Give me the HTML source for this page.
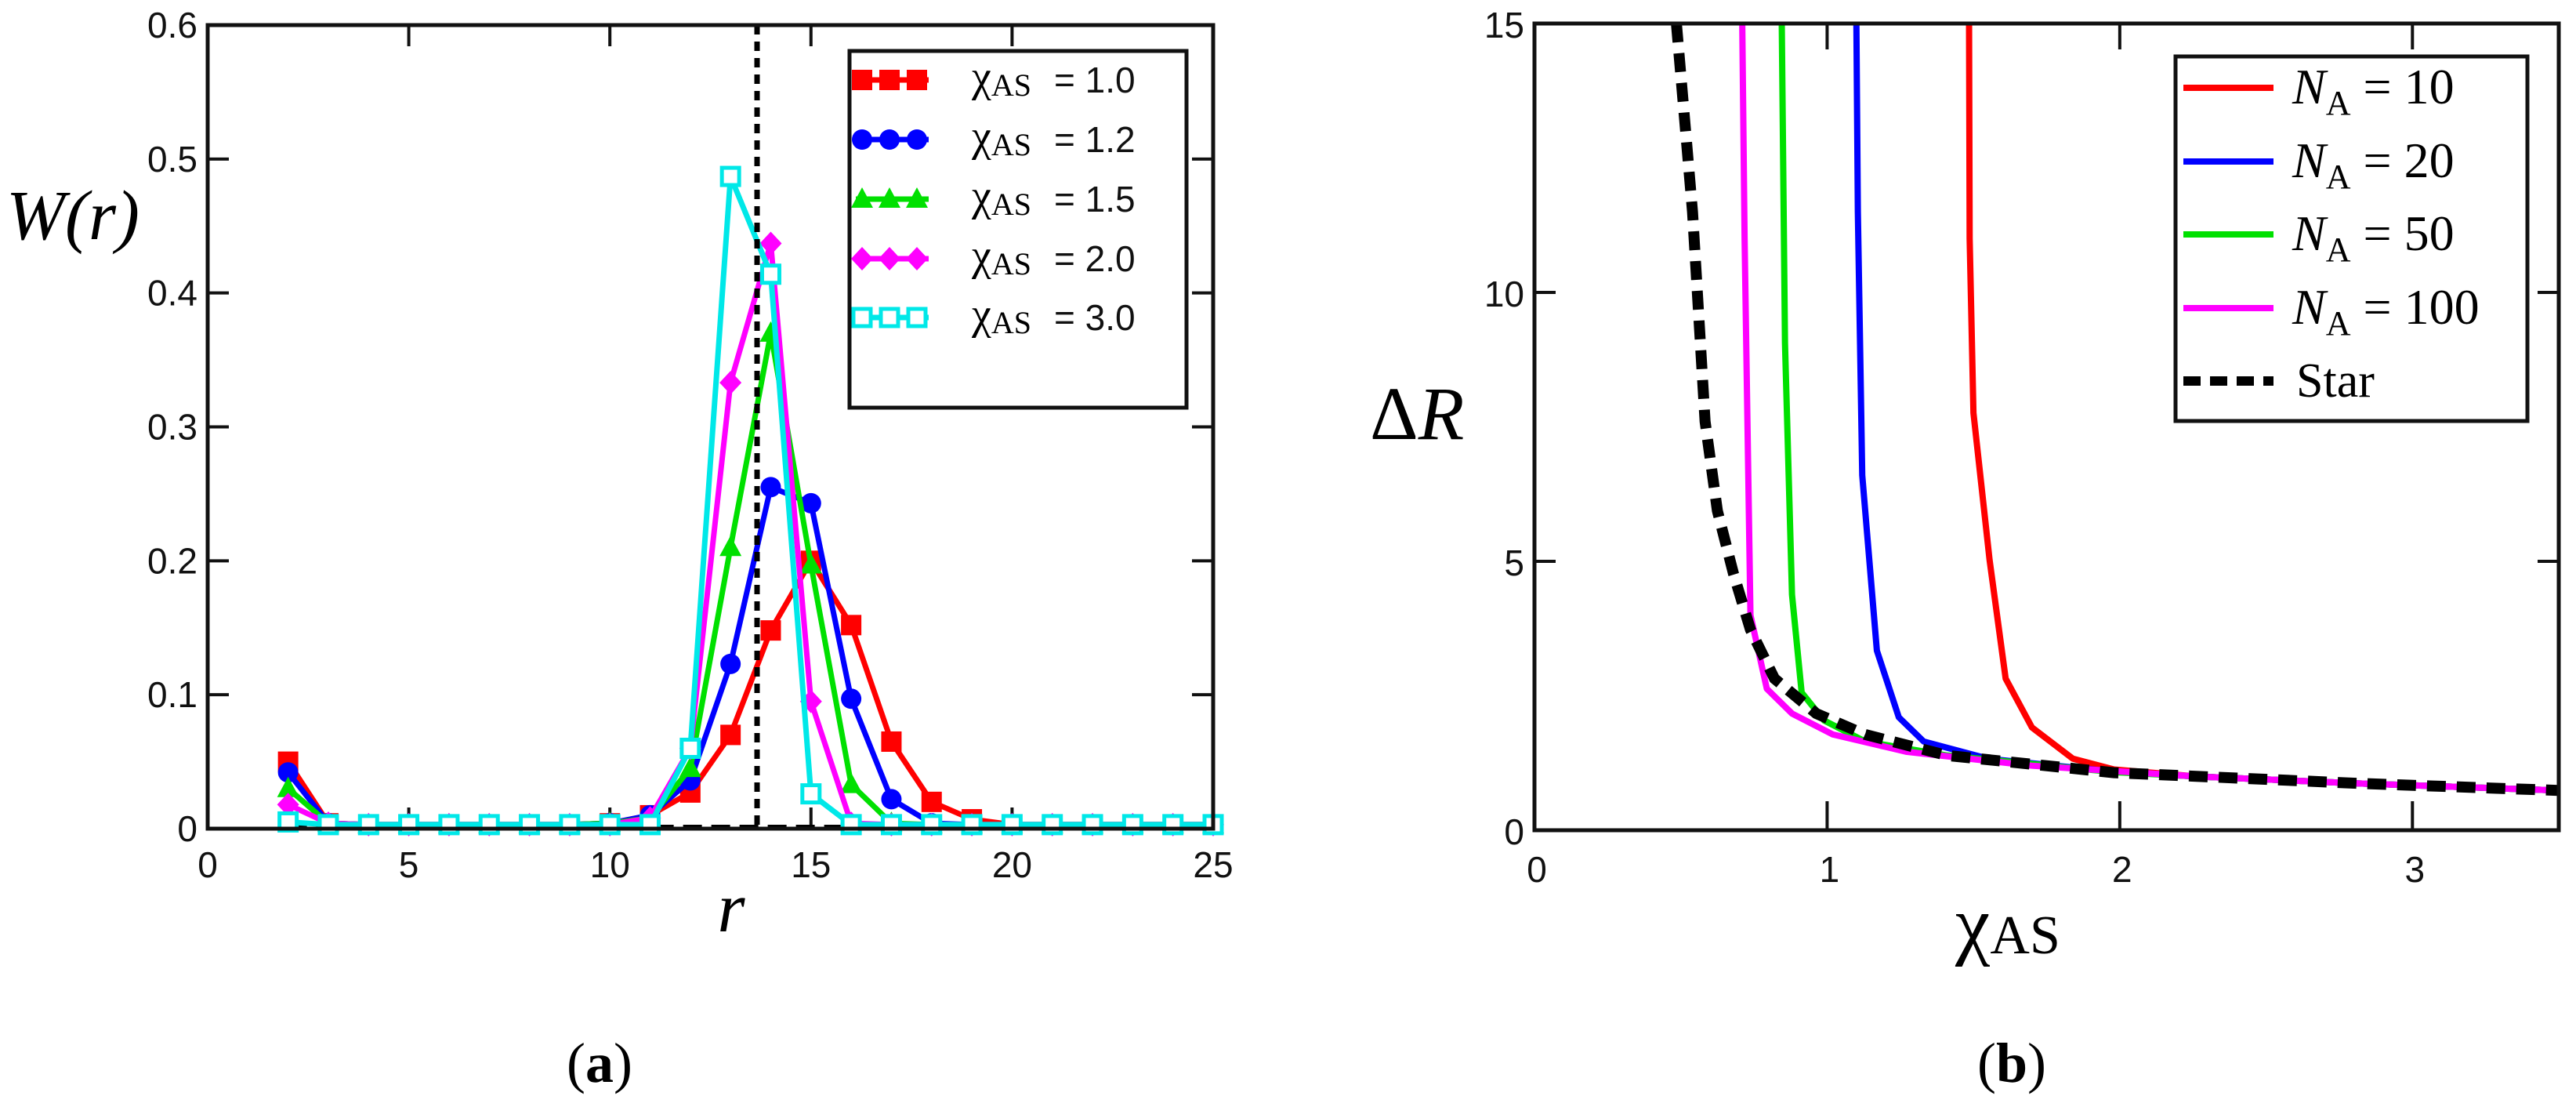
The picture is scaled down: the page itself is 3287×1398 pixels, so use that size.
<!DOCTYPE html>
<html><head><meta charset="utf-8"><style>
html,body{margin:0;padding:0;background:#fff;}
svg{display:block;}
.tk{font-family:"Liberation Sans",sans-serif;font-size:46px;fill:#111;}
.lg{font-family:"Liberation Serif",serif;fill:#000;}
</style></head><body>
<svg id="fig" width="3287" height="1398" viewBox="0 0 3287 1398" xmlns="http://www.w3.org/2000/svg">
<g id="pa"></g>
<g id="pb"></g>
</svg>
<script>
// ---- Panel (a) data ----
const rVals = [2,3,4,5,6,7,8,9,10,11,12,13,14,15,16,17,18,19,20,21,22,23,24,25];
const w10 = [0.05,0.004,0.003,0.003,0.003,0.003,0.003,0.003,0.004,0.01,0.027,0.07,0.148,0.2,0.152,0.065,0.02,0.007,0.003,0.003,0.003,0.003,0.003,0.003];
const w12 = [0.042,0.004,0.003,0.003,0.003,0.003,0.003,0.003,0.004,0.01,0.036,0.123,0.255,0.243,0.097,0.022,0.004,0.003,0.003,0.003,0.003,0.003,0.003,0.003];
const w15 = [0.03,0.004,0.003,0.003,0.003,0.003,0.003,0.003,0.004,0.008,0.045,0.21,0.37,0.197,0.033,0.004,0.003,0.003,0.003,0.003,0.003,0.003,0.003,0.003];
const w20 = [0.018,0.004,0.003,0.003,0.003,0.003,0.003,0.003,0.003,0.008,0.06,0.333,0.437,0.095,0.004,0.003,0.003,0.003,0.003,0.003,0.003,0.003,0.003,0.003];
const w30 = [0.005,0.003,0.003,0.003,0.003,0.003,0.003,0.003,0.003,0.003,0.06,0.487,0.414,0.026,0.003,0.003,0.003,0.003,0.003,0.003,0.003,0.003,0.003,0.003];
const aXTicks = [0,5,10,15,20,25];
const aYTicks = [0,0.1,0.2,0.3,0.4,0.5,0.6];
const aYTickLabels = ["0","0.1","0.2","0.3","0.4","0.5","0.6"];
const aLegend = ["1.0","1.2","1.5","2.0","3.0"];
const aRef = 13.66;
// ---- Panel (b) data ----
const bRedX = [1.485,1.487,1.50,1.555,1.61,1.70,1.84,1.98,2.26,2.82,3.5];
const bRedY = [15,11,7.76,5.03,2.82,1.91,1.33,1.13,1.0,0.87,0.74];
const bBlueX = [1.10,1.105,1.12,1.17,1.245,1.33,1.55,1.98,2.26,2.82,3.5];
const bBlueY = [15,11.5,6.6,3.34,2.1,1.65,1.33,1.09,1.0,0.87,0.74];
const bGreenX = [0.845,0.856,0.88,0.913,0.99,1.13,1.41,1.98,2.26,2.82,3.5];
const bGreenY = [15,9.06,4.38,2.56,2.04,1.65,1.39,1.08,1.0,0.87,0.74];
const bMagX = [0.71,0.718,0.738,0.794,0.88,1.02,1.27,1.70,2.26,2.82,3.5];
const bMagY = [15,11,4.0,2.63,2.17,1.78,1.46,1.2,1.0,0.87,0.74];
const bStarX = [0.485,0.54,0.583,0.625,0.68,0.738,0.82,0.963,1.13,1.41,1.98,2.82,3.5];
const bStarY = [15,11.5,7.6,5.94,4.77,3.73,2.82,2.17,1.78,1.39,1.07,0.87,0.74];
const bXTicks = [0,1,2,3];
const bYTicks = [0,5,10,15];
const bLegend = ["10","20","50","100"];

const NS="http://www.w3.org/2000/svg";
function mk(tag,attrs,parent){const e=document.createElementNS(NS,tag);for(const k in attrs)e.setAttribute(k,attrs[k]);parent.appendChild(e);return e;}

// ===== Panel A =====
const A=document.getElementById('pa');
const aL=265,aR=1548,aT=32,aB=1057;
const ax=v=>aL+(v-0)/25*(aR-aL);
const ay=v=>aB-(v/0.6)*(aB-aT);
aXTicks.forEach(t=>{
  const x=ax(t);
  const l1=mk('line',{x1:x,y1:aB,x2:x,y2:aB-27,stroke:'#111','stroke-width':4},A);
  
  const l2=mk('line',{x1:x,y1:aT,x2:x,y2:aT+27,stroke:'#111','stroke-width':4},A);
  
  const tx=mk('text',{x:x,y:aB+62,'text-anchor':'middle',class:'tk'},A);tx.textContent=String(t);
  
});
aYTicks.forEach((t,i)=>{
  const y=ay(t);
  const l1=mk('line',{x1:aL,y1:y,x2:aL+27,y2:y,stroke:'#111','stroke-width':4},A);
  
  const l2=mk('line',{x1:aR,y1:y,x2:aR-27,y2:y,stroke:'#111','stroke-width':4},A);
  
  const tx=mk('text',{x:252,y:y+16,'text-anchor':'end',class:'tk'},A);tx.textContent=aYTickLabels[i];
  
});
const aSeries=[{d:w10,c:'#ff0000',m:'sq'},{d:w12,c:'#0000ff',m:'ci'},{d:w15,c:'#00e000',m:'tr'},{d:w20,c:'#ff00ff',m:'di'},{d:w30,c:'#00e8e8',m:'os'}];
const bl=mk('line',{x1:ax(2),y1:aB-2,x2:aR,y2:aB-2,stroke:'#000','stroke-width':6,'stroke-dasharray':'24 12'},A);

function marker(g,type,x,y,c){
  let e;
  if(type==='sq')e=mk('rect',{x:x-13,y:y-13,width:26,height:26,fill:c},g);
  else if(type==='ci')e=mk('circle',{cx:x,cy:y,r:13,fill:c},g);
  else if(type==='tr')e=mk('polygon',{points:`${x},${y-15} ${x+14},${y+11} ${x-14},${y+11}`,fill:c},g);
  else if(type==='di')e=mk('polygon',{points:`${x},${y-15} ${x+14},${y} ${x},${y+15} ${x-14},${y}`,fill:c},g);
  else e=mk('rect',{x:x-11,y:y-11,width:22,height:22,fill:'#fff',stroke:c,'stroke-width':5},g);
  return e;
}
aSeries.forEach((s,si)=>{
  const g=mk('g',{},A);
  
  const pts=rVals.map((r,i)=>ax(r)+','+ay(s.d[i])).join(' ');
  const pl=mk('polyline',{points:pts,fill:'none',stroke:s.c,'stroke-width':7,'stroke-linejoin':'round'},g);
  
  rVals.forEach((r,i)=>{const m=marker(g,s.m,ax(r),ay(s.d[i]),s.c);
    });
});
const vr=mk('line',{x1:ax(aRef),y1:aT,x2:ax(aRef),y2:aB,stroke:'#000','stroke-width':7,'stroke-dasharray':'12 9'},A);

const fa=mk('rect',{x:aL,y:aT,width:aR-aL,height:aB-aT,fill:'none',stroke:'#111','stroke-width':5},A);

const lgA=mk('g',{},A);
mk('rect',{x:1084,y:65,width:430,height:455,fill:'#fff',stroke:'#111','stroke-width':5},lgA);
const aRowY=[102,178,254,330,405];
aSeries.forEach((s,i)=>{
  const y=aRowY[i];
  const ent=mk('g',{},lgA);
  mk('line',{x1:1092,y1:y,x2:1185,y2:y,stroke:s.c,'stroke-width':7},ent);
  [1100,1135,1170].forEach(mx=>marker(ent,s.m,mx,y,s.c));
  const t=mk('text',{x:1240,y:y+14,class:'lg','font-size':56},ent);
  t.innerHTML='χ<tspan font-size="40" dy="6">AS</tspan>';
  const t2=mk('text',{x:1345,y:y+16,class:'tk','font-size':52},ent);t2.textContent='= '+aLegend[i];
});
let t;
t=mk('text',{x:8,y:305,class:'lg','font-size':90,'font-style':'italic'},A);t.textContent='W(r)';

t=mk('text',{x:933,y:1188,class:'lg','font-size':90,'font-style':'italic','text-anchor':'middle'},A);t.textContent='r';

t=mk('text',{x:765,y:1380,class:'lg','font-size':72,'text-anchor':'middle'},A);t.innerHTML='(<tspan font-weight="bold">a</tspan>)';


// ===== Panel B =====
const B=document.getElementById('pb');
const bL=1958,bR=3265,bT=30,bB=1059;
const bx=v=>bL+v/3.5*(bR-bL);
const by=v=>bB-v/15*(bB-bT);
bXTicks.forEach(v=>{
  const x=bx(v);
  let l=mk('line',{x1:x,y1:bB,x2:x,y2:bB-37,stroke:'#111','stroke-width':4},B);
  
  l=mk('line',{x1:x,y1:bT,x2:x,y2:bT+33,stroke:'#111','stroke-width':4},B);
  
  const tx=mk('text',{x:x+3,y:bB+66,'text-anchor':'middle',class:'tk'},B);tx.textContent=String(v);
  
});
bYTicks.forEach(v=>{
  const y=by(v);
  let l=mk('line',{x1:bL,y1:y,x2:bL+27,y2:y,stroke:'#111','stroke-width':4},B);
  
  l=mk('line',{x1:bR,y1:y,x2:bR-27,y2:y,stroke:'#111','stroke-width':4},B);
  
  const tx=mk('text',{x:1945,y:y+18,'text-anchor':'end',class:'tk'},B);tx.textContent=String(v);
  
});
const bSeries=[{x:bRedX,y:bRedY,c:'#ff0000',n:'na-10'},{x:bBlueX,y:bBlueY,c:'#0000ff',n:'na-20'},{x:bGreenX,y:bGreenY,c:'#00e000',n:'na-50'},{x:bMagX,y:bMagY,c:'#ff00ff',n:'na-100'}];
bSeries.forEach(s=>{
  const pts=s.x.map((v,i)=>bx(v)+','+by(s.y[i])).join(' ');
  const pl=mk('polyline',{points:pts,fill:'none',stroke:s.c,'stroke-width':8,'stroke-linejoin':'round'},B);
  
});
const sp=bStarX.map((v,i)=>bx(v)+','+by(bStarY[i])).join(' ');
const spl=mk('polyline',{points:sp,fill:'none',stroke:'#000','stroke-width':14,'stroke-dasharray':'24 14'},B);

const fb=mk('rect',{x:bL,y:bT,width:bR-bL,height:bB-bT,fill:'none',stroke:'#111','stroke-width':5},B);

const lgB=mk('g',{},B);
mk('rect',{x:2776,y:72,width:449,height:465,fill:'#fff',stroke:'#111','stroke-width':5},lgB);
const bRowY=[112,206,299,393,486];
bSeries.forEach((s,i)=>{
  const y=bRowY[i];
  const ent=mk('g',{},lgB);
  mk('line',{x1:2786,y1:y,x2:2901,y2:y,stroke:s.c,'stroke-width':8},ent);
  const tt=mk('text',{x:2925,y:y+20,class:'lg','font-size':64},ent);
  tt.innerHTML='<tspan font-style="italic">N</tspan><tspan font-size="44" dy="14">A</tspan><tspan dy="-14"> = '+bLegend[i]+'</tspan>';
});
const se=mk('g',{},lgB);
mk('line',{x1:2786,y1:486,x2:2901,y2:486,stroke:'#000','stroke-width':12,'stroke-dasharray':'22 12'},se);
t=mk('text',{x:2930,y:506,class:'lg','font-size':62},se);t.textContent='Star';
t=mk('text',{x:1748,y:560,class:'lg','font-size':96},B);t.innerHTML='Δ<tspan font-style="italic">R</tspan>';

t=mk('text',{x:2495,y:1212,class:'lg','font-size':100},B);t.innerHTML='χ<tspan font-size="70" dy="4">AS</tspan>';

t=mk('text',{x:2567,y:1380,class:'lg','font-size':72,'text-anchor':'middle'},B);t.innerHTML='(<tspan font-weight="bold">b</tspan>)';

</script>
</body></html>
